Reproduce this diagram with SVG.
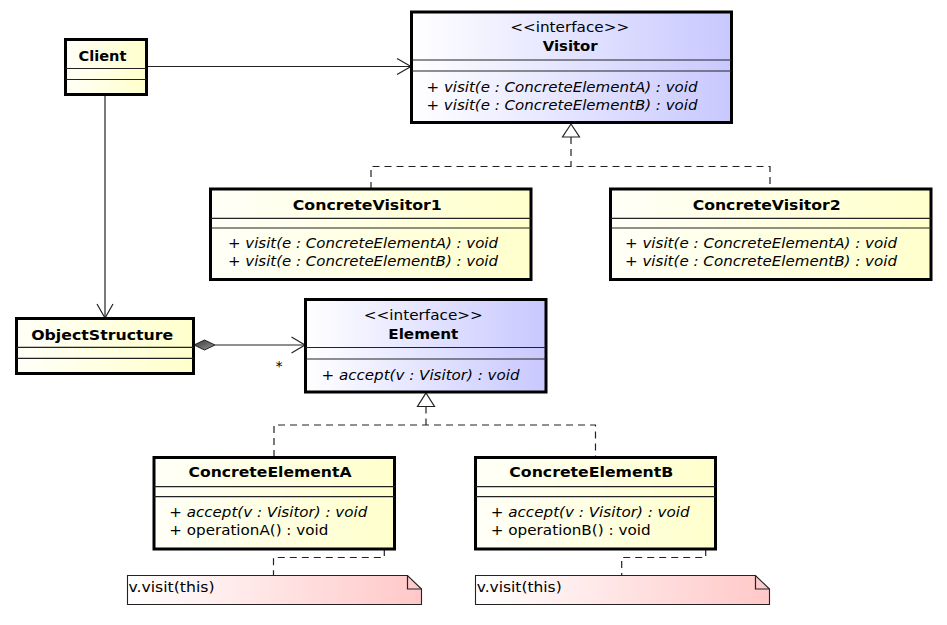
<svg xmlns="http://www.w3.org/2000/svg" width="947" height="625" viewBox="0 0 947 625">
<style>
text{font-family:"DejaVu Sans","Liberation Sans",sans-serif;font-size:13.5px;fill:#000}
.b{font-weight:bold}
.i{font-style:italic}
.m{text-anchor:middle}
.box{stroke:#000;stroke-width:3}
.cls{fill:url(#gY)}
.ifc{fill:url(#gB)}
.sep{stroke:#222;stroke-width:1.2;fill:none}
.ln{stroke:#222;stroke-width:1.2;fill:none}
.dash{stroke:#222;stroke-width:1.2;fill:none;stroke-dasharray:7,5}
.note{fill:url(#gR);stroke:#222;stroke-width:1.1}
.tri{fill:#fff;stroke:#222;stroke-width:1.2}
</style>
<defs>
<linearGradient id="gY" x1="0" y1="0" x2="1" y2="0"><stop offset="0" stop-color="#fffff8"/><stop offset="1" stop-color="#ffffcc"/></linearGradient>
<linearGradient id="gB" x1="0" y1="0" x2="1" y2="0"><stop offset="0" stop-color="#ffffff"/><stop offset="1" stop-color="#c8c8ff"/></linearGradient>
<linearGradient id="gR" x1="0" y1="0" x2="1" y2="0"><stop offset="0" stop-color="#ffffff"/><stop offset="1" stop-color="#ffc8c8"/></linearGradient>
<linearGradient id="gD" x1="0" y1="0" x2="1" y2="1"><stop offset="0" stop-color="#333"/><stop offset="1" stop-color="#999"/></linearGradient>
</defs>

<g id="connectors">
  <!-- Client -> Visitor -->
  <path class="ln" d="M146.5,66.5 H411"/>
  <path class="ln" d="M397,58.5 L411,66.5 L397,74.5"/>
  <!-- Client -> ObjectStructure -->
  <path class="ln" d="M105,95 V318"/>
  <path class="ln" d="M97,304 L105,318 L113,304"/>
  <!-- ObjectStructure <>-> Element -->
  <path class="ln" d="M215,345 H305"/>
  <path class="ln" d="M291.5,337 L305,345 L291.5,353"/>
  <path d="M194,345 L204.5,340 L215,345 L204.5,350 Z" fill="url(#gD)" stroke="#222" stroke-width="1"/>
  <text x="279" y="371" class="m">*</text>
  <!-- Visitor realization -->
  <path class="dash" d="M571,137 V166.5"/>
  <path class="dash" d="M371,189 V166.5 H770 V189"/>
  <path class="tri" d="M571,124 L579.5,137 L562.5,137 Z"/>
  <!-- Element realization -->
  <path class="dash" d="M426,406.5 V425"/>
  <path class="dash" d="M274,457 V425 H595.5 V457"/>
  <path class="tri" d="M426,393 L434.5,406.5 L417.5,406.5 Z"/>
  <!-- note links -->
  <path class="dash" d="M384.3,513 V557.5 H273.5 V575"/>
  <path class="dash" d="M705.7,513 V557.5 H621.7 V575"/>
  <circle cx="384.3" cy="512.7" r="2.2" fill="#666" stroke="#222" stroke-width="1"/>
  <circle cx="705.7" cy="512.7" r="2.2" fill="#666" stroke="#222" stroke-width="1"/>
</g>

<g id="Client">
  <rect class="box cls" x="65.5" y="39.5" width="81" height="55"/>
  <path class="sep" d="M65.5,68.5 H146.5 M65.5,79.5 H146.5"/>
  <text x="102.5" y="60.5" class="b m" textLength="48" lengthAdjust="spacingAndGlyphs">Client</text>
</g>

<g id="Visitor">
  <rect class="box ifc" x="411.5" y="12" width="320" height="110.5"/>
  <path class="sep" d="M411.5,60 H731.5 M411.5,71 H731.5"/>
  <text x="569.7" y="32" class="m" textLength="119" lengthAdjust="spacingAndGlyphs">&lt;&lt;interface&gt;&gt;</text>
  <text x="570.2" y="51" class="b m" textLength="55" lengthAdjust="spacingAndGlyphs">Visitor</text>
  <text x="426.5" y="92" class="i" textLength="271" lengthAdjust="spacingAndGlyphs">+ visit(e : ConcreteElementA) : void</text>
  <text x="426.5" y="109.5" class="i" textLength="271" lengthAdjust="spacingAndGlyphs">+ visit(e : ConcreteElementB) : void</text>
</g>

<g id="ConcreteVisitor1">
  <rect class="box cls" x="210.5" y="189" width="320.5" height="90.5"/>
  <path class="sep" d="M210.5,218.3 H531 M210.5,228 H531"/>
  <text x="367.3" y="209.5" class="b m" textLength="149" lengthAdjust="spacingAndGlyphs">ConcreteVisitor1</text>
  <text x="228" y="247.5" class="i" textLength="270" lengthAdjust="spacingAndGlyphs">+ visit(e : ConcreteElementA) : void</text>
  <text x="228" y="265.5" class="i" textLength="270" lengthAdjust="spacingAndGlyphs">+ visit(e : ConcreteElementB) : void</text>
</g>

<g id="ConcreteVisitor2">
  <rect class="box cls" x="610.5" y="189" width="320.5" height="90.5"/>
  <path class="sep" d="M610.5,218.3 H931 M610.5,228 H931"/>
  <text x="766.7" y="209.5" class="b m" textLength="148" lengthAdjust="spacingAndGlyphs">ConcreteVisitor2</text>
  <text x="625" y="247.5" class="i" textLength="272" lengthAdjust="spacingAndGlyphs">+ visit(e : ConcreteElementA) : void</text>
  <text x="625" y="265.5" class="i" textLength="272" lengthAdjust="spacingAndGlyphs">+ visit(e : ConcreteElementB) : void</text>
</g>

<g id="ObjectStructure">
  <rect class="box cls" x="16.5" y="318.5" width="177" height="55"/>
  <path class="sep" d="M16.5,347.3 H193.5 M16.5,358.3 H193.5"/>
  <text x="102.2" y="339.5" class="b m" textLength="142" lengthAdjust="spacingAndGlyphs">ObjectStructure</text>
</g>

<g id="Element">
  <rect class="box ifc" x="305.5" y="299.5" width="240.5" height="92.5"/>
  <path class="sep" d="M305.5,347.5 H546 M305.5,359 H546"/>
  <text x="423.3" y="320" class="m" textLength="119" lengthAdjust="spacingAndGlyphs">&lt;&lt;interface&gt;&gt;</text>
  <text x="423.3" y="339" class="b m" textLength="70" lengthAdjust="spacingAndGlyphs">Element</text>
  <text x="321.5" y="380" class="i" textLength="198" lengthAdjust="spacingAndGlyphs">+ accept(v : Visitor) : void</text>
</g>

<g id="ConcreteElementA">
  <rect class="box cls" x="154" y="457.5" width="240.5" height="91.5"/>
  <path class="sep" d="M154,486.7 H394.5 M154,496.7 H394.5"/>
  <text x="270" y="477" class="b m" textLength="163" lengthAdjust="spacingAndGlyphs">ConcreteElementA</text>
  <text x="169.3" y="516.5" class="i" textLength="198" lengthAdjust="spacingAndGlyphs">+ accept(v : Visitor) : void</text>
  <text x="169.3" y="535" textLength="159" lengthAdjust="spacingAndGlyphs">+ operationA() : void</text>
</g>

<g id="ConcreteElementB">
  <rect class="box cls" x="475.5" y="457.5" width="240" height="91.5"/>
  <path class="sep" d="M475.5,486.7 H715.5 M475.5,496.7 H715.5"/>
  <text x="591.3" y="477" class="b m" textLength="164" lengthAdjust="spacingAndGlyphs">ConcreteElementB</text>
  <text x="490.7" y="516.5" class="i" textLength="199" lengthAdjust="spacingAndGlyphs">+ accept(v : Visitor) : void</text>
  <text x="490.7" y="535" textLength="160" lengthAdjust="spacingAndGlyphs">+ operationB() : void</text>
</g>

<g id="NoteA">
  <path class="note" d="M127.5,575.5 H407.5 L421.5,589 V604.5 H127.5 Z"/>
  <path class="ln" d="M407.5,575.5 V589 H421.5" stroke-width="1"/>
  <text x="128.5" y="591.5" textLength="86" lengthAdjust="spacingAndGlyphs">v.visit(this)</text>
</g>

<g id="NoteB">
  <path class="note" d="M475.5,575.5 H755.5 L769.5,589 V604.5 H475.5 Z"/>
  <path class="ln" d="M755.5,575.5 V589 H769.5" stroke-width="1"/>
  <text x="476.7" y="591.5" textLength="85" lengthAdjust="spacingAndGlyphs">v.visit(this)</text>
</g>
</svg>
